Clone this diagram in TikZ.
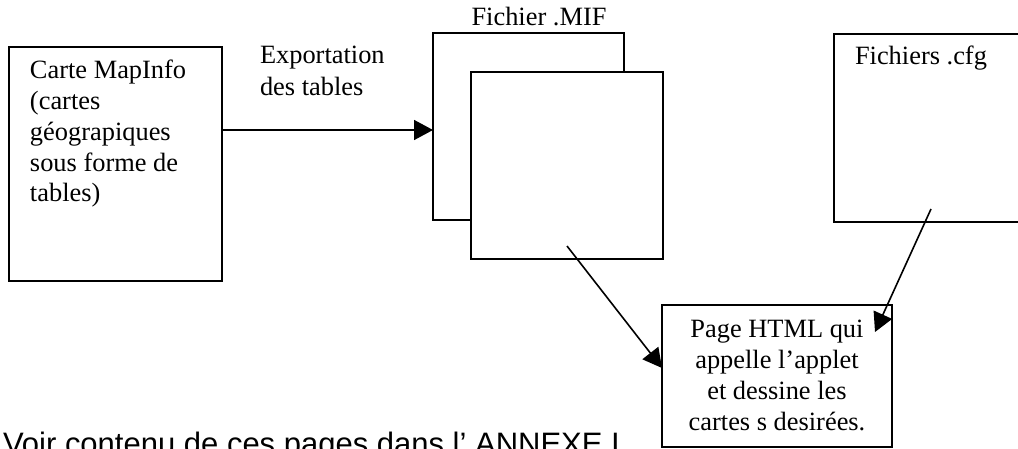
\documentclass[tikz,border=0pt]{standalone}
\usepackage{fontspec}
\setmainfont{Liberation Serif}
\newfontfamily\arialf{Liberation Sans}
\usetikzlibrary{arrows.meta}
\tikzset{
  box/.style={draw=black, line width=1.2pt, fill=white, inner sep=0pt, outer sep=0pt},
  arr/.style={draw=black, line width=1.6pt, -{Triangle[length=19pt,width=20pt]}},
  txt/.style={font=\fontsize{26.4}{30.8}\selectfont, inner sep=0pt, outer sep=0pt},
  sans/.style={font=\arialf\fontsize{31}{36}\selectfont, inner sep=0pt, outer sep=0pt}
}
\begin{document}
\begin{tikzpicture}[x=1pt,y=-1pt]
\useasboundingbox (0,0) rectangle (1018,449);
\clip (0,0) rectangle (1018,449);
\fill[white] (0,0) rectangle (1018,449);
% boxes
\node[box, minimum width=213pt, minimum height=234pt] (carte) at (115.5,164) {};
\node[box, minimum width=191pt, minimum height=187pt] (mifback) at (528.5,126.5) {};
\node[box, minimum width=192pt, minimum height=187pt] (miffront) at (567,165.5) {};
\node[box, minimum width=196pt, minimum height=188pt] (cfg) at (932,128) {};
\node[box, minimum width=230pt, minimum height=142pt] (html) at (777,376) {};
% texts (base anchor = baseline of the last line)
\node[txt, anchor=base west, align=left] (cartetxt) at (30,202) {Carte MapInfo\\(cartes\\géograpiques\\sous forme de\\tables)};
\node[txt, anchor=base west, align=left, font=\fontsize{26.4}{32}\selectfont] (exptxt) at (260,96) {Exportation\\des tables};
\node[txt, anchor=base] (miftxt) at (539,26) {Fichier .MIF};
\node[txt, anchor=base west] (cfgtxt) at (855,65) {Fichiers .cfg};
\node[txt, anchor=base, align=center] (htmltxt) at (777,430) {Page HTML qui\\appelle l’applet\\et dessine les\\cartes s desirées.};
\node[sans, anchor=base west] (voir) at (3,454) {Voir contenu de ces pages dans l’ ANNEXE I};
% connectors
\coordinate (s1) at (567,246);
\coordinate (e1) at (662,368);
\coordinate (s2) at (931,209);
\coordinate (e2) at (875,332);
\draw[arr] (carte.east |- 0,130) -- (mifback.west |- 0,130);
\draw[arr] (s1) -- (e1);
\draw[arr] (s2) -- (e2);
\end{tikzpicture}
\end{document}
